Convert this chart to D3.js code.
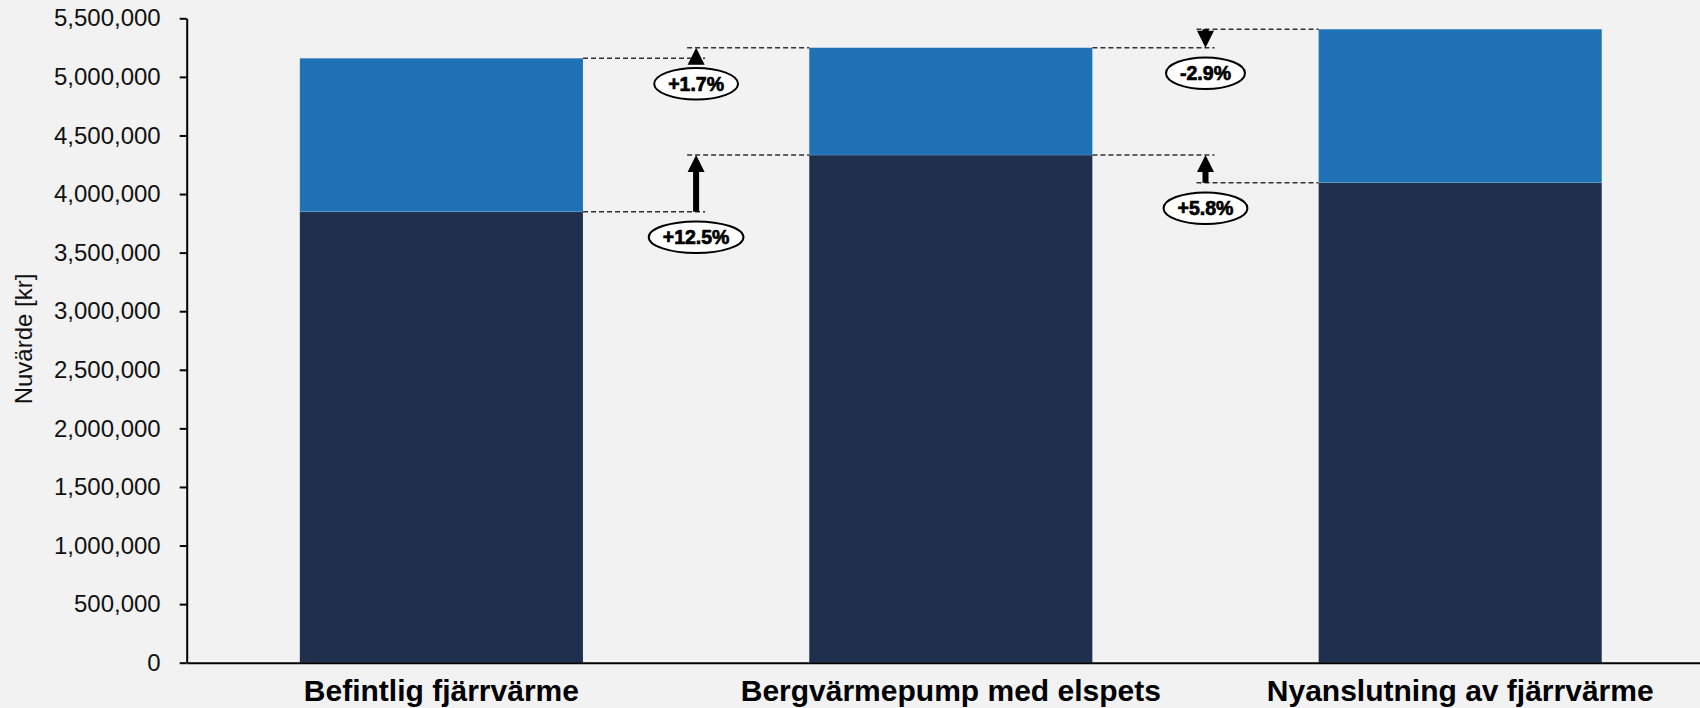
<!DOCTYPE html>
<html lang="sv">
<head>
<meta charset="UTF-8">
<title>Nuvärde</title>
<script src="https://d3js.org/d3.v7.min.js"></script>
<style>
  html, body { margin: 0; padding: 0; background: #f2f2f2; }
  svg { display: block; font-family: "Liberation Sans", Arial, sans-serif; }
  .yaxis text { font-size: 24px; fill: #111; }
  .xaxis text { font-size: 30px; font-weight: bold; fill: #000; }
  .ytitle { font-size: 24px; fill: #111; }
  .chg text { font-size: 19.5px; font-weight: bold; fill: #000; stroke: #000; stroke-width: 0.7px; }
</style>
</head>
<body>
<div id="chart"></div>
<script>
// kategorier och värden (kr)
var categories = ["Befintlig fjärrvärme", "Bergvärmepump med elspets", "Nyanslutning av fjärrvärme"];
var baseValues = [3849000, 4333000, 4097000];
var extraValues = [1310000, 916000, 1310000];
var yTicks = [0, 500000, 1000000, 1500000, 2000000, 2500000, 3000000, 3500000, 4000000, 4500000, 5000000, 5500000];

// förändringspilar mellan staplarna: [nivå bas, nivå total]
var gapPairs = [[0, 1], [1, 2]];
var arrowSource = [0, 2];
var arrowTarget = [1, 1];
var changeLabels = [["+12.5%", "+1.7%"], ["+5.8%", "-2.9%"]];

var width = 1700, height = 708;
var margin = {left: 186.7, top: 18.3, bottom: 45.3};

var totals = baseValues.map(function(d, i) { return d + extraValues[i]; });

var x = d3.scaleBand()
    .domain(categories)
    .range([margin.left, margin.left + 3 * 509.4])
    .paddingInner(0.444)
    .paddingOuter(0.222);

var y = d3.scaleLinear()
    .domain([0, 5500000])
    .range([height - margin.bottom, margin.top]);

var svg = d3.select("#chart").append("svg")
    .attr("width", width)
    .attr("height", height);

svg.append("rect").attr("width", width).attr("height", height).attr("fill", "#f2f2f2");

// staplar
var bars = svg.append("g");
bars.selectAll(".base")
    .data(categories)
    .enter().append("rect")
    .attr("class", "base")
    .attr("x", function(d) { return x(d); })
    .attr("width", x.bandwidth())
    .attr("y", function(d, i) { return y(baseValues[i]); })
    .attr("height", function(d, i) { return y(0) - y(baseValues[i]); })
    .attr("fill", "#1f304f")
    .attr("stroke", "rgba(255,255,255,0.18)")
    .attr("stroke-width", 0.7);

bars.selectAll(".extra")
    .data(categories)
    .enter().append("rect")
    .attr("class", "extra")
    .attr("x", function(d) { return x(d); })
    .attr("width", x.bandwidth())
    .attr("y", function(d, i) { return y(totals[i]); })
    .attr("height", function(d, i) { return y(baseValues[i]) - y(totals[i]); })
    .attr("fill", "#2072b6")
    .attr("stroke", "rgba(255,255,255,0.18)")
    .attr("stroke-width", 0.7);

// axlar
svg.append("g")
    .attr("class", "yaxis")
    .attr("transform", "translate(" + margin.left + ",0)")
    .call(d3.axisLeft(y).tickValues(yTicks).tickFormat(d3.format(",")).tickSizeInner(7).tickSizeOuter(0).tickPadding(19))
    .call(function(g) {
      g.selectAll("path, line").attr("stroke", "#000").attr("stroke-width", 2);
    });

svg.append("g")
    .attr("class", "xaxis")
    .attr("transform", "translate(0," + y(0) + ")")
    .call(d3.axisBottom(x).tickSize(0).tickPadding(17))
    .call(function(g) {
      g.select(".domain").attr("stroke", "#000").attr("stroke-width", 2);
    });

svg.append("text")
    .attr("class", "ytitle")
    .attr("transform", "translate(31.7," + 339 + ") rotate(-90)")
    .attr("text-anchor", "middle")
    .text("Nuvärde [kr]");

// förändringar
var levels = [baseValues, totals];
var head = 17, shaft = 6;
var ann = svg.append("g");

gapPairs.forEach(function(pair, g) {
  var left = pair[0], right = pair[1];
  var cx = x(categories[right]) - x.step() * x.paddingInner() / 2;

  levels.forEach(function(vals, l) {
    // streckade hjälplinjer
    ann.append("line")
        .attr("x1", x(categories[left]) + x.bandwidth()).attr("x2", cx + 9)
        .attr("y1", y(vals[left])).attr("y2", y(vals[left]))
        .attr("stroke", "#333").attr("stroke-width", 1.4).attr("stroke-dasharray", "5,3");
    ann.append("line")
        .attr("x1", cx - 9).attr("x2", x(categories[right]))
        .attr("y1", y(vals[right])).attr("y2", y(vals[right]))
        .attr("stroke", "#333").attr("stroke-width", 1.4).attr("stroke-dasharray", "5,3");

    // pil
    var y0 = y(vals[arrowSource[g]]), y1 = y(vals[arrowTarget[g]]);
    var dir = y1 < y0 ? 1 : -1; // 1 = uppåt
    var base = y1 + dir * head;
    var p = d3.path();
    if ((y0 - base) * dir > 0) {
      p.rect(cx - shaft / 2, Math.min(base, y0), shaft, Math.abs(y0 - base));
    }
    p.moveTo(cx, y1);
    p.lineTo(cx + head / 2, base);
    p.lineTo(cx - head / 2, base);
    p.closePath();
    ann.append("path").attr("d", p.toString()).attr("fill", "#000");

    // etikett
    var ly = y(Math.min(vals[left], vals[right])) + 25.5;
    var lab = ann.append("g").attr("class", "chg").attr("transform", "translate(" + cx + "," + ly + ")");
    var ell = lab.append("ellipse").attr("ry", 15.8).attr("fill", "#fff").attr("stroke", "#000").attr("stroke-width", 2);
    var t = lab.append("text")
        .attr("text-anchor", "middle")
        .attr("dy", "0.36em")
        .text(changeLabels[g][l]);
    ell.attr("rx", t.node().getComputedTextLength() / 2 + 14);
  });
});
</script>
</body>
</html>
